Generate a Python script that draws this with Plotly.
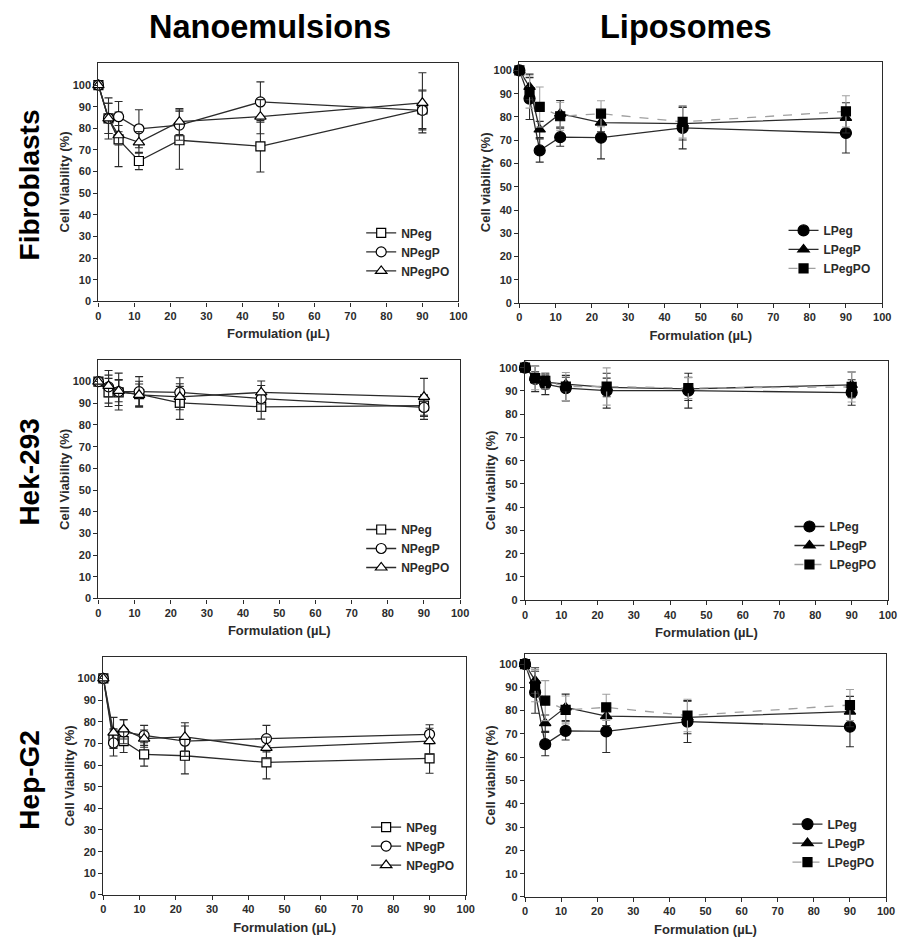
import plotly.graph_objects as go

# ---------------- data ----------------
dose = [0, 2.8, 5.6, 11.25, 22.5, 45, 90]
x_ticks = [0, 10, 20, 30, 40, 50, 60, 70, 80, 90, 100]
y_ticks = [0, 10, 20, 30, 40, 50, 60, 70, 80, 90, 100]

col_titles = ["Nanoemulsions", "Liposomes"]
row_titles = ["Fibroblasts", "Hek-293", "Hep-G2"]
nano_names = ["NPeg", "NPegP", "NPegPO"]
lipo_names = ["LPeg", "LPegP", "LPegPO"]

# Fibroblasts - nanoemulsions
fib_npeg = [100, 84.6, 74.9, 64.9, 74.5, 71.7, 88.8]
fib_npeg_err = [0, 7, 12.6, 4, 13.4, 11.9, 8.9]
fib_npegp = [100, 84.6, 85.4, 79.8, 81.5, 92.2, 88.3]
fib_npegp_err = [0, 9.5, 7, 8.8, 7, 9.3, 9]
fib_npegpo = [100, 84.6, 76.8, 73.5, 83.1, 85.4, 91.8]
fib_npegpo_err = [0, 7, 4.5, 5, 6, 7.9, 13.9]

# Fibroblasts - liposomes
fib_lpeg = [100, 87.9, 65.6, 71.3, 71.1, 75.3, 73.1]
fib_lpeg_err = [0, 9, 5, 3.9, 9.1, 9, 8.6]
fib_lpegp = [100, 92.9, 74.6, 81.4, 77.6, 77.1, 79.6]
fib_lpegp_err = [0, 5.5, 3.5, 5.7, 4, 7, 6.5]
fib_lpegpo = [100, 90.7, 84.3, 80.3, 81.4, 77.9, 82.4]
fib_lpegpo_err = [0, 6.9, 8.6, 6, 5.6, 7, 6.7]

# Hek-293 - nanoemulsions
hek_npeg = [100, 95, 95, 94.2, 90.2, 88.4, 88.9]
hek_npeg_err = [0, 6.5, 6, 6, 7.6, 5.7, 5]
hek_npegp = [100, 97.6, 95.4, 95.4, 95, 92.2, 88.1]
hek_npegp_err = [0, 7.5, 8.5, 6.9, 6.8, 6, 5.5]
hek_npegpo = [100, 98, 95.7, 93.9, 93, 95, 93]
hek_npegpo_err = [0, 5, 5, 5, 6, 5.3, 8.5]

# Hek-293 - liposomes
hek_lpeg = [100, 95.2, 92.9, 91.2, 90.1, 90.1, 89.3]
hek_lpeg_err = [0, 5.5, 4.5, 5.5, 7.5, 7.5, 5.5]
hek_lpegp = [100, 95.7, 93.8, 92.9, 91.5, 90.9, 92.6]
hek_lpegp_err = [0, 2.5, 3, 3, 4, 5, 5.5]
hek_lpegpo = [100, 95.5, 94.3, 91.9, 91.9, 91.2, 91.7]
hek_lpegpo_err = [0, 5, 3.5, 6, 8, 4.5, 6.5]

# Hep-G2 - nanoemulsions
hep_npeg = [100, 72.2, 71, 64.9, 64.3, 61.2, 63.1]
hep_npeg_err = [0, 4.5, 5.2, 5.4, 8.4, 7.6, 6.9]
hep_npegp = [100, 70.2, 75.3, 73.7, 71, 72.2, 74.2]
hep_npegp_err = [0, 6, 5.5, 4.6, 7, 6.1, 4.4]
hep_npegpo = [100, 75, 76.5, 72.2, 73, 67.9, 71]
hep_npegpo_err = [0, 7, 4.5, 4, 6.5, 5, 6]

# Hep-G2 - liposomes
hep_lpeg = [100, 87.9, 65.6, 71.3, 71.1, 75.3, 73.1]
hep_lpeg_err = [0, 9, 5, 3.9, 9.1, 9, 8.6]
hep_lpegp = [100, 92.9, 74.6, 81.4, 77.6, 77.1, 79.6]
hep_lpegp_err = [0, 5.5, 3.5, 5.7, 4, 7, 6.5]
hep_lpegpo = [100, 90.7, 84.3, 80.3, 81.4, 77.9, 82.4]
hep_lpegpo_err = [0, 6.9, 8.6, 6, 5.6, 7, 6.7]

# ---------------- layout geometry ----------------
W, H = 907, 940
FONT = "Liberation Sans, Arial, Helvetica, sans-serif"
DARK = "#2b2b2b"
LIGHT = "#a0a0a0"

# (x0px, x1px, ytop_px, ybottom_px, ymax)
panels = [
    (96.7, 461.5, 63, 303.3, 110.4),
    (523.3, 891.0, 62, 305.0, 103.8),
    (96.7, 463.3, 362.7, 602.3, 109.8),
    (529.0, 896.8, 363, 604.0, 103.0),
    (101.7, 469.0, 661, 900.7, 110.0),
    (529.0, 894.9, 658, 902.7, 104.4),
]
legend_pos = [(363, 253.5), (791, 251), (363, 552), (797, 549), (368, 851.5), (795, 848.5)]

panel_series = [
    ("nano", [(fib_npeg, fib_npeg_err), (fib_npegp, fib_npegp_err), (fib_npegpo, fib_npegpo_err)]),
    ("lipo", [(fib_lpeg, fib_lpeg_err), (fib_lpegp, fib_lpegp_err), (fib_lpegpo, fib_lpegpo_err)]),
    ("nano", [(hek_npeg, hek_npeg_err), (hek_npegp, hek_npegp_err), (hek_npegpo, hek_npegpo_err)]),
    ("lipo", [(hek_lpeg, hek_lpeg_err), (hek_lpegp, hek_lpegp_err), (hek_lpegpo, hek_lpegpo_err)]),
    ("nano", [(hep_npeg, hep_npeg_err), (hep_npegp, hep_npegp_err), (hep_npegpo, hep_npegpo_err)]),
    ("lipo", [(hep_lpeg, hep_lpeg_err), (hep_lpegp, hep_lpegp_err), (hep_lpegpo, hep_lpegpo_err)]),
]

nano_symbols = ["square", "circle", "triangle-up"]
nano_sizes = [9, 10, 10]
lipo_symbols = ["circle", "triangle-up", "square"]
lipo_sizes = [11, 10, 9]

fig = go.Figure()

for i, (kind, series) in enumerate(panel_series):
    n = i + 1
    xa = "x" if n == 1 else f"x{n}"
    ya = "y" if n == 1 else f"y{n}"
    lg = "legend" if n == 1 else f"legend{n}"
    for j, (vals, errs) in enumerate(series):
        if kind == "nano":
            name = nano_names[j]
            sym = nano_symbols[j]
            size = nano_sizes[j]
            lcol = DARK
            dash = "solid"
            ecol = DARK
            mcol = "white"
        else:
            name = lipo_names[j]
            sym = lipo_symbols[j]
            size = lipo_sizes[j]
            lcol = LIGHT if j == 2 else DARK
            dash = "dash" if j == 2 else "solid"
            ecol = LIGHT if j == 2 else DARK
            mcol = "black"
        fig.add_trace(go.Scatter(
            x=dose, y=vals, name=name, mode="lines+markers",
            xaxis=xa, yaxis=ya, legend=lg, cliponaxis=False,
            line=dict(color=lcol, width=1.3, dash=dash),
            marker=dict(symbol=sym, size=size, color=mcol,
                        line=dict(color="black", width=1.2)),
            error_y=dict(type="data", array=errs, visible=True,
                         color=ecol, thickness=1.1, width=4),
        ))

layout = dict(
    width=W, height=H,
    margin=dict(l=0, r=0, t=0, b=0),
    paper_bgcolor="white", plot_bgcolor="white",
    font=dict(family=FONT, color=DARK),
    showlegend=True,
)

for i, (x0, x1, yt, yb, ymax) in enumerate(panels):
    n = i + 1
    kind = panel_series[i][0]
    xk = "xaxis" if n == 1 else f"xaxis{n}"
    yk = "yaxis" if n == 1 else f"yaxis{n}"
    xref = "y" if n == 1 else f"y{n}"
    yref = "x" if n == 1 else f"x{n}"
    layout[xk] = dict(
        domain=[x0 / W, x1 / W], anchor=xref, range=[0, 100],
        tickvals=x_ticks, ticktext=[str(t) for t in x_ticks],
        showline=True, linecolor=DARK, linewidth=1.4, mirror=True,
        ticks="outside", ticklen=4, tickcolor=DARK, showgrid=False, zeroline=False,
        tickfont=dict(family=FONT, size=11, color=DARK, weight="bold"),
        title=dict(text="Formulation (µL)", standoff=8,
                   font=dict(family=FONT, size=13, color=DARK, weight="bold")),
    )
    layout[yk] = dict(
        domain=[1 - yb / H, 1 - yt / H], anchor=yref, range=[0, ymax],
        tickvals=y_ticks, ticktext=[str(t) for t in y_ticks],
        showline=True, linecolor=DARK, linewidth=1.4, mirror=True,
        ticks="outside", ticklen=4, tickcolor=DARK, showgrid=False, zeroline=False,
        tickfont=dict(family=FONT, size=11, color=DARK, weight="bold"),
        title=dict(text="Cell Viability (%)" if kind == "nano" else "Cell viability (%)",
                   standoff=0,
                   font=dict(family=FONT, size=13, color=DARK, weight="bold")),
    )
    lx, ly = legend_pos[i]
    lk = "legend" if n == 1 else f"legend{n}"
    layout[lk] = dict(
        x=lx / W, y=1 - ly / H, xanchor="left", yanchor="middle",
        bgcolor="rgba(0,0,0,0)", borderwidth=0, itemwidth=30,
        font=dict(family=FONT, size=12, color=DARK, weight="bold"),
        tracegroupgap=0,
    )

annotations = []
col_x = [271, 692]
for cx, t in zip(col_x, col_titles):
    annotations.append(dict(
        x=cx / W, y=1 - 27 / H, xref="paper", yref="paper", text=t,
        showarrow=False, xanchor="center", yanchor="middle",
        font=dict(family=FONT, size=32.5, color="black", weight="bold"),
    ))
row_y = [186, 475, 785]
for ry, t in zip(row_y, row_titles):
    annotations.append(dict(
        x=27 / W, y=1 - ry / H, xref="paper", yref="paper", text=t,
        showarrow=False, xanchor="center", yanchor="middle", textangle=-90,
        font=dict(family=FONT, size=28, color="black", weight="bold"),
    ))
layout["annotations"] = annotations

fig.update_layout(**layout)
fig.write_html("out.html")
